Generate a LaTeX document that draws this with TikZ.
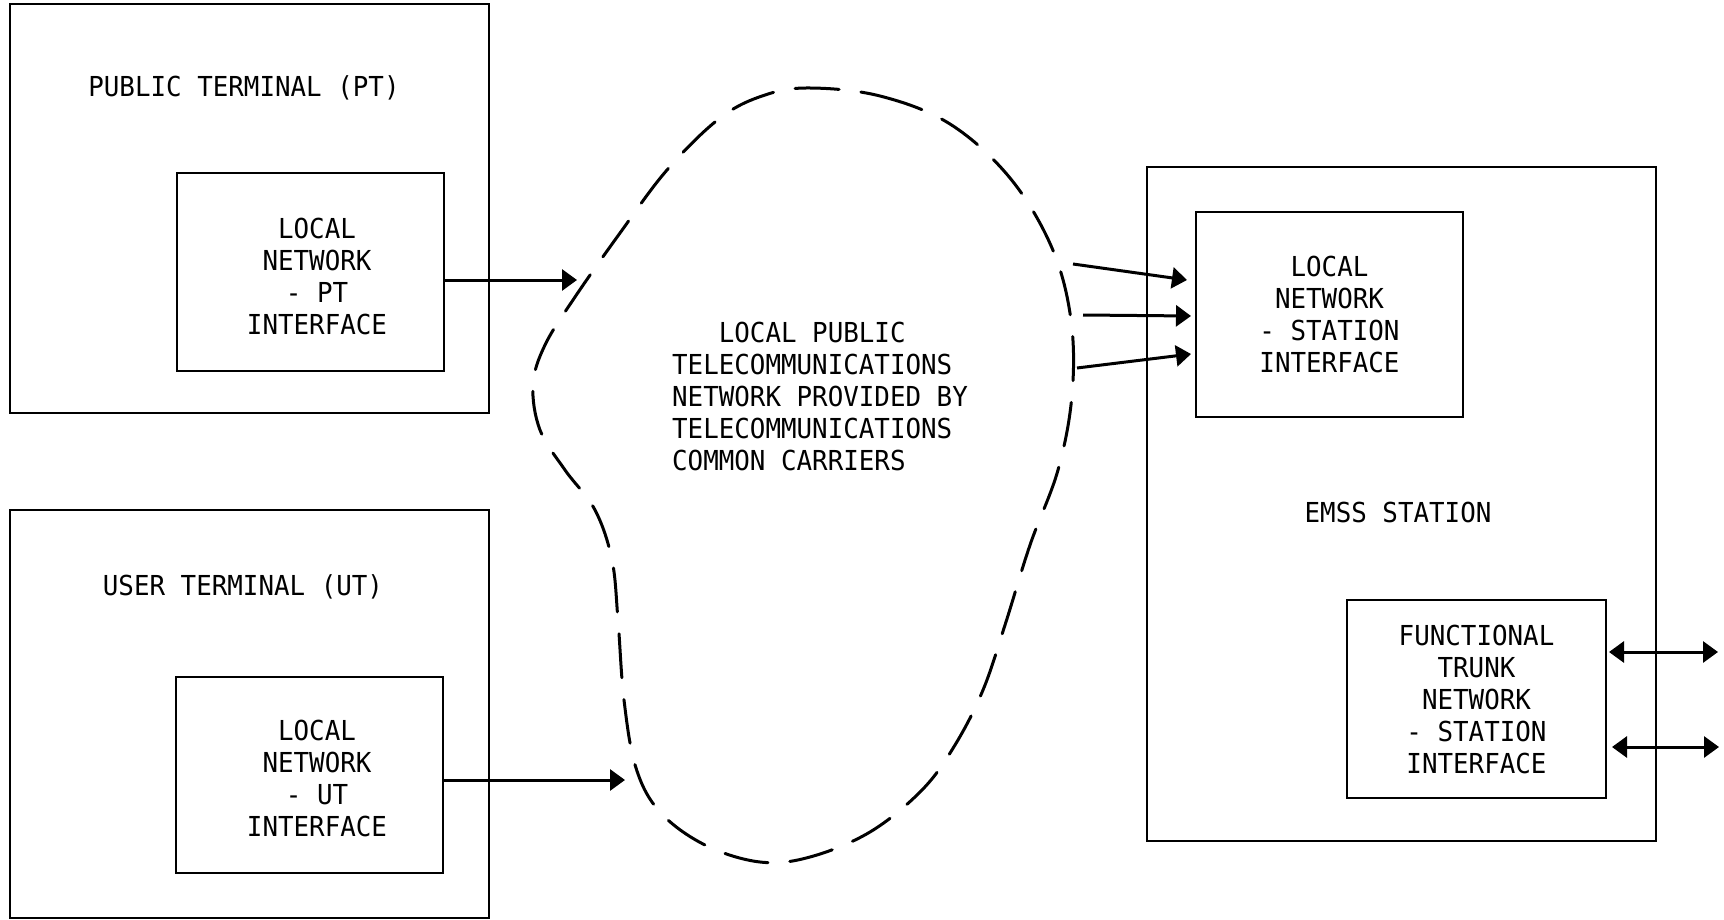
\documentclass[tikz,border=0pt]{standalone}
\usepackage{fontspec}
\newfontfamily\typewriter[FakeStretch=0.94]{DejaVu Sans Mono}
\usetikzlibrary{arrows.meta,calc}
\begin{document}
\begin{tikzpicture}[x=1pt,y=-1pt,
  every node/.style={font=\typewriter\fontsize{27.5pt}{32pt}\selectfont,
                     inner sep=0pt, outer sep=0pt, align=center},
  box/.style={draw, line width=2.8pt},
  flow/.style={line width=3pt, -{Triangle[length=15pt,width=21pt]}},
  both/.style={line width=3pt,
               {Triangle[length=15pt,width=21pt]}-{Triangle[length=15pt,width=21pt]}},
  netline/.style={line width=3pt, line cap=round, dash pattern=on 44pt off 22pt}]

  % page
  \fill[white] (0,0) rectangle (1724,920);
  \useasboundingbox (0,0) rectangle (1724,920);

  % public terminal
  \node[box, minimum width=479pt, minimum height=409pt] (pt) at (249.5,208.5) {};
  \node (ptlabel) at (244,88) {PUBLIC TERMINAL (PT)};
  \node[box, minimum width=267pt, minimum height=198pt] (pti) at (310.5,272) {};
  \node (ptitext) at (317,276) {LOCAL\\NETWORK\\- PT\\INTERFACE};

  % user terminal
  \node[box, minimum width=479pt, minimum height=408pt] (ut) at (249.5,714) {};
  \node (utlabel) at (243,587) {USER TERMINAL (UT)};
  \node[box, minimum width=267pt, minimum height=196pt] (uti) at (309.5,775) {};
  \node (utitext) at (317,778) {LOCAL\\NETWORK\\- UT\\INTERFACE};

  % EMSS station
  \node[box, minimum width=509pt, minimum height=674pt] (emss) at (1401.5,504) {};
  \node (emsslabel) at (1398,512) {EMSS STATION};
  \node[box, minimum width=267pt, minimum height=205pt] (si) at (1329.5,314.5)
       {LOCAL\\NETWORK\\- STATION\\INTERFACE};
  \node[box, minimum width=259pt, minimum height=198pt] (fn) at (1476.5,699)
       {FUNCTIONAL\\TRUNK\\NETWORK\\- STATION\\INTERFACE};

  % local public telecommunications network (dashed cloud)
  \draw[netline] plot[smooth cycle, tension=0.6] coordinates {
    (810,88) (880,96) (950,124) (1010,178) (1052,248) (1071,320)
    (1072,395) (1058,470) (1030,545) (1005,625) (983,690) (955,745)
    (922,790) (870,832) (810,857) (760,862) (705,845) (660,812)
    (636,768) (624,700) (618,620) (612,560) (595,510) (565,470)
    (540,430) (533,385) (545,345) (575,297) (620,233) (667,170)
    (720,118) (765,95)};
  \node[align=left] (nettext) at (820,396)
       {\phantom{TEL}LOCAL PUBLIC\\TELECOMMUNICATIONS\\NETWORK PROVIDED BY\\TELECOMMUNICATIONS\\COMMON CARRIERS};

  % connector ends
  \coordinate (pin) at (577,280);
  \coordinate (uin) at (625,780);
  \coordinate (c1) at (1073,264);
  \coordinate (c2) at (1083,315);
  \coordinate (c3) at (1077,368);
  \coordinate (r1) at (1718,652);
  \coordinate (r2) at (1719,747);

  % connectors
  \draw[flow] (pin -| pti.east) -- (pin);
  \draw[flow] (uin -| uti.east) -- (uin);
  \draw[flow] (c1) -- ([xshift=-9pt,yshift=34.5pt]si.west);
  \draw[flow] (c2) -- ([xshift=-5pt,yshift=-1.5pt]si.west);
  \draw[flow] (c3) -- ([xshift=-5pt,yshift=-39.5pt]si.west);
  \draw[both] ($(fn.east |- r1)+(3,0)$) -- (r1);
  \draw[both] ($(fn.east |- r2)+(6,0)$) -- (r2);
\end{tikzpicture}
\end{document}
